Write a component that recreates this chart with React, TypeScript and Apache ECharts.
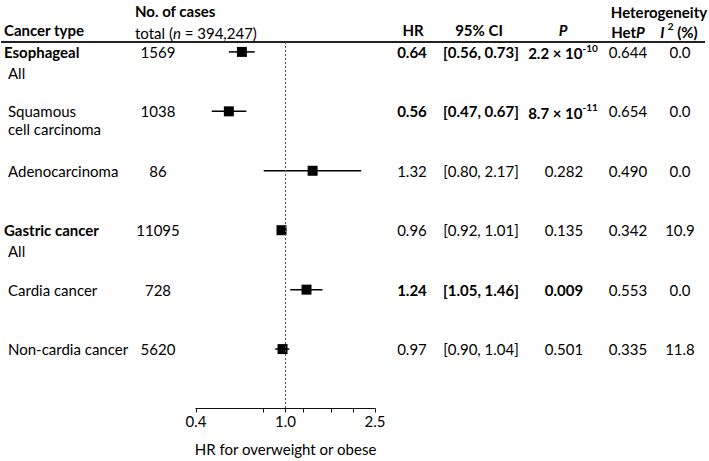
import React, { useEffect, useRef } from "react";
import * as echarts from "echarts";

// ---- data ----
const rowLabels = ["Esophageal", "Squamous", "Adenocarcinoma", "Gastric cancer", "Cardia cancer", "Non-cardia cancer"];
const rowSubLabels = ["All", "cell carcinoma", "", "All", "", ""];
const rowLabelBold = [true, false, false, true, false, false];
const cases = ["1569", "1038", "86", "11095", "728", "5620"];
const hr = [0.64, 0.56, 1.32, 0.96, 1.24, 0.97];
const ciLow = [0.56, 0.47, 0.8, 0.92, 1.05, 0.9];
const ciHigh = [0.73, 0.67, 2.17, 1.01, 1.46, 1.04];
const pMain = ["2.2 × 10", "8.7 × 10", "0.282", "0.135", "0.009", "0.501"];
const pExp = ["-10", "-11", "", "", "", ""];
const significant = [true, true, false, false, true, false];
const hetP = ["0.644", "0.654", "0.490", "0.342", "0.553", "0.335"];
const iSquared = ["0.0", "0.0", "0.0", "10.9", "0.0", "11.8"];
const tickValues = [0.4, 0.8, 1.0, 1.2, 1.6, 2.0, 2.5];
const labelValues = [0.4, 1.0, 2.5];
const axisTitle = "HR for overweight or obese";

const FONT = "Lato";
const FS = 15;

function txt(text: string, x: number, y: number, opts: any = {}) {
  const align = opts.align || "left";
  return {
    type: "text",
    silent: true,
    style: {
      text,
      x,
      y,
      fill: "#000",
      fontFamily: FONT,
      fontSize: opts.fontSize || FS,
      fontWeight: opts.bold ? "bold" : "normal",
      fontStyle: opts.italic ? "italic" : "normal",
      textAlign: align,
      align,
      textVerticalAlign: "middle",
      verticalAlign: "middle",
      rich: opts.rich,
    },
  };
}

function richStyles(bold: boolean) {
  const w = bold ? "bold" : "normal";
  return {
    m: { fontFamily: FONT, fontSize: FS, fontWeight: w, color: "#000", lineHeight: 18, verticalAlign: "bottom" },
    it: { fontFamily: FONT, fontSize: FS, fontWeight: w, fontStyle: "italic", color: "#000", lineHeight: 18, verticalAlign: "bottom" },
    sup: { fontFamily: FONT, fontSize: 10, fontWeight: w, color: "#000", lineHeight: 10, verticalAlign: "top" },
  };
}

export default function App() {
  const ref = useRef<HTMLDivElement>(null);
  useEffect(() => {
    if (!ref.current) return;
    const chart = echarts.init(ref.current, null, { renderer: "svg" });
    chart.setOption({
      animation: false,
      backgroundColor: "#fff",
      grid: { left: 196, right: 334, top: 42, bottom: 49, containLabel: false },
      xAxis: {
        type: "log",
        logBase: 10,
        min: 0.4,
        max: 2.5,
        splitLine: { show: false },
        axisLine: { show: true, onZero: false, lineStyle: { color: "#111", width: 1.2 } },
        axisTick: { show: true, customValues: tickValues, length: 4, inside: false, lineStyle: { color: "#111", width: 1 } },
        axisLabel: {
          customValues: labelValues,
          formatter: (v: number) => Number(v).toFixed(1),
          color: "#000",
          fontFamily: FONT,
          fontSize: FS,
          margin: 5,
        },
        minorTick: { show: false },
        name: axisTitle,
        nameLocation: "middle",
        nameGap: 40,
        nameTextStyle: { color: "#000", fontFamily: FONT, fontSize: FS, verticalAlign: "middle" },
      },
      yAxis: {
        type: "value",
        min: -1 / 6,
        max: 6,
        inverse: true,
        show: false,
        splitLine: { show: false },
      },
      series: [
        {
          type: "custom",
          silent: true,
          renderItem: (params: any, api: any) => {
            const y = api.value(2);
            const p1 = api.coord([api.value(0), y]);
            const p2 = api.coord([api.value(1), y]);
            return {
              type: "line",
              shape: { x1: p1[0], y1: p1[1], x2: p2[0], y2: p2[1] },
              style: { stroke: "#000", lineWidth: 1.5 },
            };
          },
          encode: { x: [0, 1], y: 2 },
          data: hr.map((_, i) => [ciLow[i], ciHigh[i], i]),
          z: 2,
        },
        {
          type: "scatter",
          silent: true,
          symbol: "rect",
          symbolSize: 10,
          itemStyle: { color: "#000", opacity: 1 },
          data: hr.map((v, i) => [v, i]),
          z: 3,
          markLine: {
            silent: true,
            symbol: "none",
            label: { show: false },
            lineStyle: { type: [2, 2], color: "#555", width: 1 },
            data: [{ xAxis: 1 }],
          },
        },
      ],
    });

    const rowY = (i: number) => (chart.convertToPixel({ gridIndex: 0 } as any, [1, i]) as number[])[1];

    const els: any[] = [];
    // header
    els.push(txt("Cancer type", 4, 30, { bold: true }));
    els.push(txt("No. of cases", 135, 11, { bold: true }));
    els.push(
      txt("{m|total (}{it|n}{m| = 394,247)}", 135, 31, { rich: richStyles(false) })
    );
    els.push(txt("HR", 413, 30, { bold: true, align: "center" }));
    els.push(txt("95% CI", 479, 30, { bold: true, align: "center" }));
    els.push(txt("P", 563, 30, { bold: true, italic: true, align: "center" }));
    els.push(txt("Heterogeneity", 659, 12, { bold: true, align: "center" }));
    els.push(txt("{m|Het}{it|P}", 628, 30, { align: "center", rich: richStyles(true) }));
    els.push(txt("{it|I }{sup|2}{m| (%)}", 679, 30, { align: "center", rich: richStyles(true) }));
    els.push({
      type: "line",
      silent: true,
      shape: { x1: 1, y1: 42, x2: 705, y2: 42 },
      style: { stroke: "#222", lineWidth: 2 },
    });

    for (let i = 0; i < rowLabels.length; i++) {
      const y = rowY(i);
      const isHeader = rowLabelBold[i];
      els.push(txt(rowLabels[i], isHeader ? 4 : 8, y, { bold: isHeader }));
      if (rowSubLabels[i]) {
        els.push(txt(rowSubLabels[i], 8, y + (isHeader ? 21 : 18)));
      }
      els.push(txt(cases[i], 158, y, { align: "center" }));
      const b = significant[i];
      els.push(txt(hr[i].toFixed(2), 412, y, { bold: b, align: "center" }));
      els.push(txt(`[${ciLow[i].toFixed(2)}, ${ciHigh[i].toFixed(2)}]`, 481, y, { bold: b, align: "center" }));
      if (pExp[i]) {
        els.push(txt(`{m|${pMain[i]}}{sup|${pExp[i]}}`, 563, y, { align: "center", rich: richStyles(b) }));
      } else {
        els.push(txt(pMain[i], 564, y, { bold: b, align: "center" }));
      }
      els.push(txt(hetP[i], 628, y, { align: "center" }));
      els.push(txt(iSquared[i], 680, y, { align: "center" }));
    }

    chart.setOption({ graphic: { elements: els } });

    return () => chart.dispose();
  }, []);
  return (
    <div
      ref={ref}
      style={{ position: "fixed", left: 0, top: 0, width: 709, height: 461, background: "#fff" }}
    />
  );
}
